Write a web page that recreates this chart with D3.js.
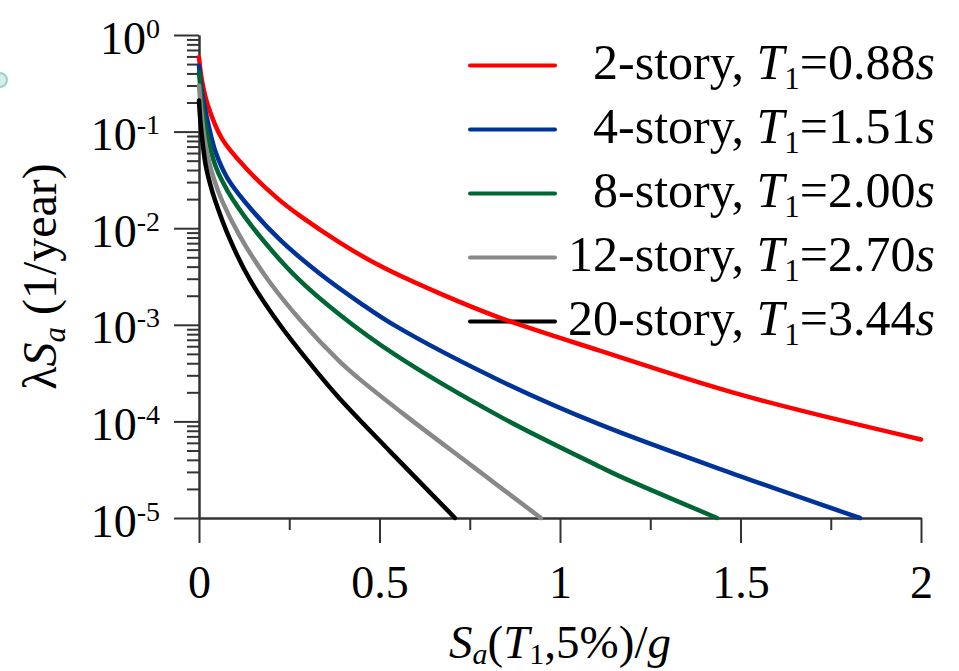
<!DOCTYPE html>
<html>
<head>
<meta charset="utf-8">
<script src="https://cdn.jsdelivr.net/npm/d3@7"></script>
<style>
  body { margin: 0; background: #fff; }
  svg { display: block; font-family: "Liberation Serif", "Times New Roman", serif; }
</style>
</head>
<body>
<div id="chart"></div>
<script>
// hazard curves, Sa in g, lambda in 1/year
const sa2 = [0, 0.008, 0.025, 0.064, 0.127, 0.219, 0.28, 0.39, 0.5, 0.668, 0.834, 1.11, 1.5, 2.0];
const lam2 = [0.59, 0.34, 0.185, 0.084, 0.043, 0.0201, 0.0134, 0.0071, 0.0041, 0.0021, 0.00118, 5.4e-4, 1.89e-4, 6.5e-5];

const sa4 = [0, 0.008, 0.025, 0.047, 0.08, 0.127, 0.224, 0.335, 0.446, 0.543, 0.834, 1.11, 1.5, 1.831];
const lam4 = [0.48, 0.26, 0.123, 0.06, 0.0324, 0.0188, 0.0076, 0.00338, 0.00169, 9.8e-4, 2.64e-4, 9.3e-5, 2.7e-5, 1e-5];

const sa8 = [0, 0.008, 0.025, 0.044, 0.064, 0.094, 0.169, 0.274, 0.39, 0.543, 0.834, 1.11, 1.166, 1.435];
const lam8 = [0.41, 0.21, 0.086, 0.046, 0.031, 0.0197, 0.0082, 0.003, 0.00127, 4.9e-4, 1.12e-4, 3.4e-5, 2.7e-5, 1e-5];

const sa12 = [0, 0.0055, 0.014, 0.025, 0.042, 0.064, 0.114, 0.191, 0.28, 0.39, 0.44, 0.576, 0.759, 0.947];
const lam12 = [0.3, 0.176, 0.092, 0.054, 0.0317, 0.0192, 0.0082, 0.00293, 0.00113, 4.16e-4, 2.84e-4, 1.12e-4, 3.4e-5, 1e-5];

const sa20 = [0, 0.004, 0.011, 0.019, 0.03, 0.044, 0.086, 0.141, 0.224, 0.335, 0.39, 0.529, 0.709];
const lam20 = [0.21, 0.126, 0.071, 0.044, 0.0295, 0.0197, 0.0076, 0.00293, 0.001, 2.98e-4, 1.72e-4, 4.9e-5, 1e-5];

const stories = ['2-story,', '4-story,', '8-story,', '12-story,', '20-story,'];
const periods = ['0.88', '1.51', '2.00', '2.70', '3.44'];
const colors = ['#ff0000', '#003399', '#006633', '#888888', '#000000'];

const xMajor = [0, 0.5, 1, 1.5, 2];
const xMinor = [0.25, 0.75, 1.25, 1.75];
const yExponents = [0, -1, -2, -3, -4, -5];

const width = 959;
const height = 671;
const axisColor = '#333';
const tickFont = 46;

const series = [
  {sa: sa2, lam: lam2},
  {sa: sa4, lam: lam4},
  {sa: sa8, lam: lam8},
  {sa: sa12, lam: lam12},
  {sa: sa20, lam: lam20}
];

const svg = d3.select('#chart').append('svg')
  .attr('width', width)
  .attr('height', height);

const x = d3.scaleLinear().domain([0, 2]).range([199, 921]);
const y = d3.scaleLog().domain([1e-5, 1]).range([518, 35]);

// little stray mark at the left edge of the scan
svg.append('circle')
  .attr('cx', 0).attr('cy', 80).attr('r', 7)
  .attr('fill', '#d6eeea').attr('stroke', '#9fd0c9').attr('stroke-width', 2);

/* axes */
const yMinor = [];
yExponents.slice(0, -1).forEach(e => {
  for (let k = 2; k <= 9; k++) yMinor.push(k * Math.pow(10, e - 1));
});

const yMinorAxis = svg.append('g')
  .attr('transform', `translate(${x(0)},0)`)
  .call(d3.axisLeft(y).tickValues(yMinor).tickSize(12).tickSizeOuter(0).tickFormat(''));

const yAxisEl = svg.append('g')
  .attr('transform', `translate(${x(0)},0)`)
  .call(d3.axisLeft(y).tickValues(yExponents.map(e => Math.pow(10, e))).tickSize(25).tickSizeOuter(0).tickFormat(''));

const xMinorAxis = svg.append('g')
  .attr('transform', `translate(0,${y(1e-5)})`)
  .call(d3.axisBottom(x).tickValues(xMinor).tickSize(12).tickSizeOuter(0).tickFormat(''));

const xAxisEl = svg.append('g')
  .attr('transform', `translate(0,${y(1e-5)})`)
  .call(d3.axisBottom(x).tickValues(xMajor).tickSize(25).tickSizeOuter(0).tickPadding(22).tickFormat(d => String(d)));

[yMinorAxis, yAxisEl, xMinorAxis, xAxisEl].forEach(g => {
  g.selectAll('path, line').attr('stroke', axisColor).attr('stroke-width', 2);
});

xAxisEl.selectAll('text')
  .attr('fill', '#000')
  .style('font-size', tickFont + 'px')
  .style('font-family', '"Liberation Serif", serif');

// 10^n labels
const yLabels = svg.append('g');
yExponents.forEach(e => {
  const t = yLabels.append('text')
    .attr('x', 160)
    .attr('y', y(Math.pow(10, e)) + 18.5)
    .attr('text-anchor', 'end')
    .style('font-size', tickFont + 'px');
  t.append('tspan').text('10');
  t.append('tspan').attr('dy', -16).style('font-size', '28px').text(e === 0 ? '0' : '-' + Math.abs(e));
});

/* legend */
const legend = svg.append('g');
stories.forEach((s, i) => {
  const ly = 65.5 + i * 64;
  legend.append('line')
    .attr('x1', 470).attr('x2', 555)
    .attr('y1', ly).attr('y2', ly)
    .attr('stroke', colors[i])
    .attr('stroke-width', 4)
    .attr('stroke-linecap', 'round');

  const t = legend.append('text')
    .attr('x', 935)
    .attr('y', ly + 13)
    .attr('text-anchor', 'end')
    .style('font-size', '50px');
  t.append('tspan').text(s + ' ');
  t.append('tspan').style('font-style', 'italic').text('T');
  t.append('tspan').attr('dy', 10).style('font-size', '31px').text('1');
  t.append('tspan').attr('dy', -10).text('=' + periods[i]);
  t.append('tspan').style('font-style', 'italic').text('s');
});

/* curves */
const line = d3.line()
  .x(d => x(d[0]))
  .y(d => y(d[1]))
  .curve(d3.curveCatmullRom.alpha(0.5));

series.forEach((s, i) => {
  svg.append('path')
    .datum(s.sa.map((v, j) => [v, s.lam[j]]))
    .attr('fill', 'none')
    .attr('stroke', colors[i])
    .attr('stroke-width', 4.5)
    .attr('stroke-linecap', 'round')
    .attr('stroke-linejoin', 'round')
    .attr('d', line);
});

/* axis titles */
const xTitle = svg.append('text')
  .attr('x', 560)
  .attr('y', 658)
  .attr('text-anchor', 'middle')
  .style('font-size', '47px');
xTitle.append('tspan').style('font-style', 'italic').text('S');
xTitle.append('tspan').attr('dy', 6).style('font-style', 'italic').style('font-size', '30px').text('a');
xTitle.append('tspan').attr('dy', -6).text('(');
xTitle.append('tspan').style('font-style', 'italic').text('T');
xTitle.append('tspan').attr('dy', 6).style('font-size', '30px').text('1');
xTitle.append('tspan').attr('dy', -6).text(',5%)/');
xTitle.append('tspan').style('font-style', 'italic').text('g');

const yTitle = svg.append('text')
  .attr('transform', `translate(56,${(y(1) + y(1e-5)) / 2}) rotate(-90)`)
  .attr('text-anchor', 'middle')
  .style('font-size', '48px');
yTitle.append('tspan').text('λ');
yTitle.append('tspan').style('font-style', 'italic').text('S');
yTitle.append('tspan').attr('dy', 9).style('font-style', 'italic').style('font-size', '31px').text('a');
yTitle.append('tspan').attr('dy', -9).text(' (1/year)');
</script>
</body>
</html>
